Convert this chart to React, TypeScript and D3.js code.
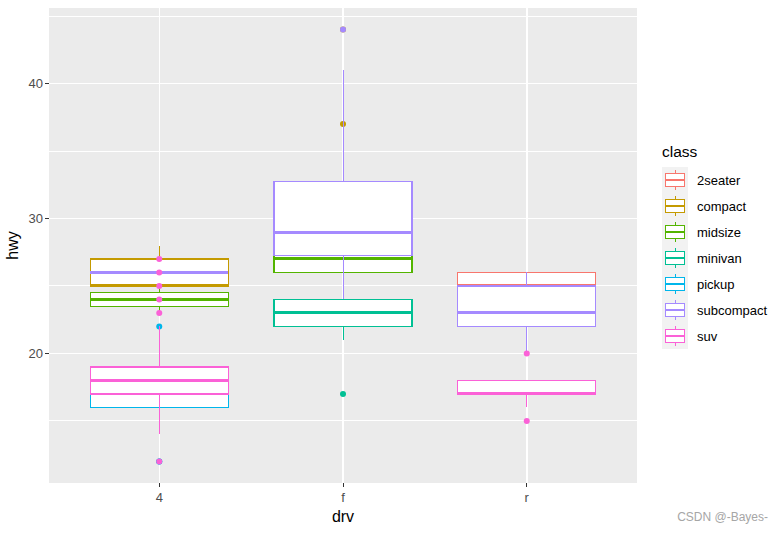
import React from "react";
import * as d3 from "d3";

const drvLevels = ["4", "f", "r"];
const classLevels = ["2seater", "compact", "midsize", "minivan", "pickup", "subcompact", "suv"];
const classColors = ["#F8766D", "#C49A00", "#53B400", "#00C094", "#00B6EB", "#A58AFF", "#FB61D7"];

// boxplot statistics per drv x class group (drawing order)
const groupDrv = ["4", "4", "4", "4", "4", "f", "f", "f", "f", "r", "r", "r"];
const groupClass = ["compact", "midsize", "pickup", "subcompact", "suv", "compact", "midsize", "minivan", "subcompact", "2seater", "subcompact", "suv"];
const whiskerLow = [25, 23, 15, 26, 14, 24, 23, 21, 24, 23, 20, 16];
const hingeLow = [25, 23.5, 16, 26, 17, 27, 26, 22, 27.25, 24, 22, 17];
const medians = [25, 24, 17, 26, 18, 29, 27, 23, 29, 25, 23, 17];
const hingeHigh = [27, 24.5, 18.25, 26, 19, 31, 29, 24, 32.75, 26, 25, 18];
const whiskerHigh = [28, 25, 20, 26, 22, 35, 32, 24, 41, 26, 26, 18];
const outliers: number[][] = [[], [], [22, 12, 12], [], [27, 26, 25, 24, 23, 12], [37, 44], [], [17], [44], [], [], [20, 15]];

const yMajor = [20, 30, 40];
const yMinor = [15, 25, 35, 45];

const W = 784, H = 533;
const panel = { left: 49, right: 637, top: 8, bottom: 483 };
const FONT = "'Liberation Sans', Arial, sans-serif";

export default function App() {
  const x = d3.scalePoint<string>().domain(drvLevels).range([panel.left, panel.right]).padding(0.6);
  const y = d3.scaleLinear().domain([10.4, 45.6]).range([panel.bottom, panel.top]);
  const bw = x.step() * 0.75;
  const color = d3.scaleOrdinal<string, string>().domain(classLevels).range(classColors);
  const lw = 1.2;

  const keySize = 26;
  const legendX = 662;
  const legendTop = 167;

  return (
    <svg width={W} height={H} style={{ position: "absolute", left: 0, top: 0, background: "#fff" }} shapeRendering="crispEdges">
      <rect x={panel.left} y={panel.top} width={panel.right - panel.left} height={panel.bottom - panel.top} fill="#EBEBEB" />
      {yMinor.map((v) => (
        <line key={"mi" + v} x1={panel.left} x2={panel.right} y1={y(v)} y2={y(v)} stroke="#fff" strokeWidth={1} />
      ))}
      {yMajor.map((v) => (
        <line key={"ma" + v} x1={panel.left} x2={panel.right} y1={y(v)} y2={y(v)} stroke="#fff" strokeWidth={1.5} />
      ))}
      {drvLevels.map((d) => (
        <line key={"gx" + d} x1={x(d)} x2={x(d)} y1={panel.top} y2={panel.bottom} stroke="#fff" strokeWidth={1.5} />
      ))}

      {groupDrv.map((d, i) => {
        const cx = x(d)!;
        const c = color(groupClass[i]);
        return (
          <g key={"g" + i}>
            {outliers[i].map((o, j) => (
              <circle key={j} cx={cx} cy={y(o)} r={3} fill={c} shapeRendering="auto" />
            ))}
            <line x1={cx} x2={cx} y1={y(hingeHigh[i])} y2={y(whiskerHigh[i])} stroke={c} strokeWidth={1} />
            <line x1={cx} x2={cx} y1={y(hingeLow[i])} y2={y(whiskerLow[i])} stroke={c} strokeWidth={1} />
            <rect x={cx - bw / 2} y={y(hingeHigh[i])} width={bw} height={y(hingeLow[i]) - y(hingeHigh[i])} fill="#fff" stroke={c} strokeWidth={lw} />
            <line x1={cx - bw / 2} x2={cx + bw / 2} y1={y(medians[i])} y2={y(medians[i])} stroke={c} strokeWidth={3} />
          </g>
        );
      })}

      {/* axes */}
      {yMajor.map((v) => (
        <g key={"yt" + v}>
          <line x1={panel.left - 3.7} x2={panel.left} y1={y(v)} y2={y(v)} stroke="#333" strokeWidth={1} />
          <text x={panel.left - 6} y={y(v)} dy="0.36em" textAnchor="end" fontFamily={FONT} fontSize={13} fill="#4D4D4D">{v}</text>
        </g>
      ))}
      {drvLevels.map((d) => (
        <g key={"xt" + d}>
          <line x1={x(d)} x2={x(d)} y1={panel.bottom} y2={panel.bottom + 3.7} stroke="#333" strokeWidth={1} />
          <text x={x(d)} y={502} textAnchor="middle" fontFamily={FONT} fontSize={13} fill="#4D4D4D">{d}</text>
        </g>
      ))}
      <text x={343} y={522} textAnchor="middle" fontFamily={FONT} fontSize={16} fill="#000">drv</text>
      <text transform={`translate(17.5, ${(panel.top + panel.bottom) / 2}) rotate(-90)`} textAnchor="middle" fontFamily={FONT} fontSize={16} fill="#000">hwy</text>

      {/* legend */}
      <text x={legendX} y={157} fontFamily={FONT} fontSize={15.5} fill="#000">class</text>
      {classLevels.map((cl, i) => {
        const ky = legendTop + i * keySize;
        const kx = legendX;
        const c = color(cl);
        const s = keySize;
        return (
          <g key={"lg" + cl}>
            <rect x={kx} y={ky} width={s} height={s} fill="#F2F2F2" />
            <line x1={kx + s / 2} x2={kx + s / 2} y1={ky + s * 0.1} y2={ky + s * 0.25} stroke={c} strokeWidth={1} />
            <line x1={kx + s / 2} x2={kx + s / 2} y1={ky + s * 0.75} y2={ky + s * 0.9} stroke={c} strokeWidth={1} />
            <rect x={kx + s * 0.125} y={ky + s * 0.25} width={s * 0.75} height={s * 0.5} fill="#fff" stroke={c} strokeWidth={lw} />
            <line x1={kx + s * 0.125} x2={kx + s * 0.875} y1={ky + s / 2} y2={ky + s / 2} stroke={c} strokeWidth={lw} />
            <text x={697} y={ky + s / 2} dy="0.36em" fontFamily={FONT} fontSize={13} fill="#000">{cl}</text>
          </g>
        );
      })}

      <text x={768} y={521} textAnchor="end" fontFamily={FONT} fontSize={12} fill="#A6A6A6">CSDN @-Bayes-</text>
    </svg>
  );
}
